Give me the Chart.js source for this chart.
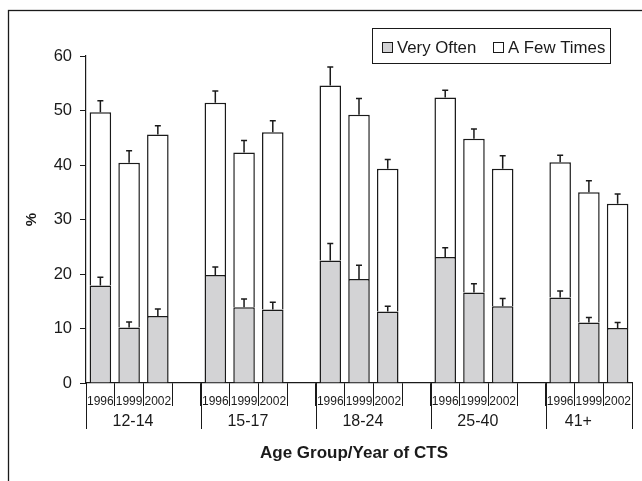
<!DOCTYPE html>
<html>
<head>
<meta charset="utf-8">
<script src="https://cdn.jsdelivr.net/npm/chart.js@4"></script>
<style>
html,body{margin:0;padding:0;background:#fff;}
#wrap{width:642px;height:481px;position:relative;}
</style>
</head>
<body>
<div id="wrap"><canvas id="c"></canvas></div>
<script>
const groups = ['12-14', '15-17', '18-24', '25-40', '41+'];
const years = ['1996', '1999', '2002'];
const veryOften = [17.9, 10.2, 12.3, 19.8, 13.9, 13.5, 22.5, 19.1, 13.1, 23.1, 16.6, 14.1, 15.7, 11.1, 10.1];
const aFewTimes = [31.8, 30.2, 33.3, 31.6, 28.4, 32.5, 32.1, 30.1, 26.2, 29.3, 28.2, 25.2, 24.8, 23.9, 22.8];
const veryOftenErr = [1.5, 1.0, 1.3, 1.5, 1.5, 1.3, 3.1, 2.5, 1.0, 1.7, 1.6, 1.4, 1.2, 0.9, 1.0];
const totalErr = [2.1, 2.2, 1.6, 2.2, 2.2, 2.1, 3.4, 3.0, 1.7, 1.3, 1.8, 2.4, 1.3, 2.1, 1.8];
const yTicks = [0, 10, 20, 30, 40, 50, 60];

const FONT = "'Liberation Sans', Arial, sans-serif";
const INK = '#1a1a1a';
const GREY = '#d3d3d5';

// build slot arrays (3 years per group, an empty slot between groups)
const slotLabels = [], voData = [], afData = [], voErrData = [], totErrData = [], groupBounds = [];
groups.forEach((g, gi) => {
  groupBounds.push(slotLabels.length);
  years.forEach((y, yi) => {
    const k = gi * years.length + yi;
    slotLabels.push(y);
    voData.push(veryOften[k]);
    afData.push(aFewTimes[k]);
    voErrData.push(veryOften[k] + veryOftenErr[k]);
    totErrData.push(veryOften[k] + aFewTimes[k] + totalErr[k]);
  });
  if (gi < groups.length - 1) {
    slotLabels.push(''); voData.push(null); afData.push(null); voErrData.push(null); totErrData.push(null);
  }
});
groupBounds.push(slotLabels.length);

const extras = {
  id: 'extras',
  afterDatasetsDraw(chart) {
    const ctx = chart.ctx, ys = chart.scales.y;
    const meta = chart.getDatasetMeta(0);
    ctx.save();
    ctx.strokeStyle = INK; ctx.lineWidth = 1.5;
    const cap = 3;
    const drawErr = (x, from, to) => {
      const y0 = ys.getPixelForValue(from), y1 = ys.getPixelForValue(to);
      ctx.beginPath();
      ctx.moveTo(x, y0); ctx.lineTo(x, y1);
      ctx.moveTo(x - cap, y1); ctx.lineTo(x + cap, y1);
      ctx.stroke();
    };
    voData.forEach((v, i) => {
      if (v == null) return;
      const x = meta.data[i].x;
      drawErr(x, v, voErrData[i]);
      drawErr(x, v + afData[i], totErrData[i]);
    });
    ctx.restore();
  },
  afterDraw(chart) {
    const ctx = chart.ctx, xs = chart.scales.x, area = chart.chartArea;
    ctx.save();
    // outer frame
    ctx.strokeStyle = INK; ctx.lineWidth = 1.3;
    ctx.strokeRect(8.5, 10.5, 800, 800);
    // legend
    ctx.lineWidth = 1;
    ctx.strokeRect(372.5, 28.5, 238, 35);
    const ds = chart.data.datasets;
    const items = [{x: 382, tx: 397}, {x: 493, tx: 508}];
    ctx.font = '16.8px ' + FONT;
    ctx.textBaseline = 'alphabetic';
    ctx.textAlign = 'left';
    items.forEach((it, i) => {
      ctx.fillStyle = ds[i].backgroundColor;
      ctx.fillRect(it.x + 0.5, 42.5, 10, 10);
      ctx.strokeStyle = INK;
      ctx.strokeRect(it.x + 0.5, 42.5, 10, 10);
      ctx.fillStyle = INK;
      ctx.fillText(ds[i].label, it.tx, 53.3);
    });
    // long group separators and group labels
    const slotW = xs.getPixelForValue(1) - xs.getPixelForValue(0);
    const bound = (i) => xs.getPixelForValue(0) - slotW / 2 + i * slotW;
    ctx.lineWidth = 1;
    ctx.strokeStyle = INK;
    groupBounds.forEach((b) => {
      const x = Math.round(bound(b)) + 0.5;
      ctx.beginPath(); ctx.moveTo(x, area.bottom); ctx.lineTo(x, 429); ctx.stroke();
    });
    ctx.font = '16px ' + FONT;
    ctx.textAlign = 'center';
    ctx.textBaseline = 'middle';
    ctx.fillStyle = INK;
    groups.forEach((g, gi) => {
      const cx = (bound(groupBounds[gi]) + bound(groupBounds[gi + 1])) / 2 - 10.5;
      ctx.fillText(g, cx, 422);
    });
    // x axis title
    ctx.font = 'bold 17px ' + FONT;
    ctx.fillText('Age Group/Year of CTS', 354, 453);
    ctx.restore();
  }
};

new Chart(document.getElementById('c'), {
  type: 'bar',
  data: {
    labels: slotLabels,
    datasets: [
      {label: 'Very Often', data: voData, backgroundColor: GREY, borderColor: INK, borderWidth: 1.5, barPercentage: 0.75, categoryPercentage: 1},
      {label: 'A Few Times', data: afData, backgroundColor: '#ffffff', borderColor: INK, borderWidth: 1.5, barPercentage: 0.75, categoryPercentage: 1}
    ]
  },
  options: {
    responsive: true,
    maintainAspectRatio: false,
    animation: false,
    layout: {padding: {left: 10, right: 10, top: 56, bottom: 0}},
    plugins: {legend: {display: false}, tooltip: {enabled: false}},
    scales: {
      x: {
        stacked: true,
        afterFit: (s) => { s.height = 98; },
        border: {display: true, color: INK, width: 1.2},
        grid: {offset: true, drawOnChartArea: false, drawTicks: true, tickLength: 23, color: INK, lineWidth: 1},
        ticks: {autoSkip: false, maxRotation: 0, minRotation: 0, padding: -12, color: INK, font: {family: FONT, size: 12}}
      },
      y: {
        stacked: true,
        min: 0, max: 60,
        afterFit: (s) => { s.width = 76; },
        afterBuildTicks: (s) => { s.ticks = yTicks.map(v => ({value: v})); },
        border: {display: true, color: INK, width: 1.2},
        grid: {drawOnChartArea: false, drawTicks: true, tickLength: 6, color: INK, lineWidth: 1},
        ticks: {padding: 8, color: INK, font: {family: FONT, size: 16.5}},
        title: {display: true, text: '%', color: INK, font: {family: FONT, size: 15, weight: 'bold'}, padding: {top: 13, bottom: 0}}
      }
    }
  },
  plugins: [extras]
});
</script>
</body>
</html>
